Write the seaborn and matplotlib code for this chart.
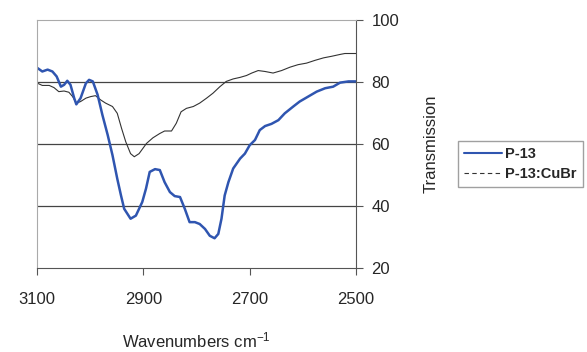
"""
IR transmission spectra, P-13 vs P-13:CuBr
"""

import numpy as np
import pandas as pd
import matplotlib
matplotlib.use("Agg")
import matplotlib.pyplot as plt
import seaborn as sns
from matplotlib.lines import Line2D

# values
p13_wn = [3099, 3090, 3080, 3071, 3063, 3055, 3049, 3043, 3037, 3030, 3026, 3018,
          3008, 3002, 2995, 2986, 2977, 2967, 2958, 2949, 2942, 2936, 2924, 2914,
          2902, 2895, 2888, 2878, 2869, 2860, 2850, 2841, 2831, 2822, 2813, 2803,
          2794, 2784, 2775, 2766, 2759, 2753, 2747, 2740, 2731, 2718, 2709, 2700,
          2690, 2681, 2671, 2659, 2646, 2634, 2618, 2606, 2590, 2574, 2558, 2543,
          2530, 2514, 2500]
p13_val = [84.5, 83.4, 84.0, 83.4, 81.8, 78.5, 79.1, 80.4, 79.1, 74.8, 72.8, 74.8,
           79.6, 80.7, 80.2, 75.9, 69.4, 62.9, 56.4, 48.8, 43.4, 39.1, 35.9, 36.9,
           41.3, 45.6, 51.0, 51.9, 51.6, 47.7, 44.5, 43.2, 42.9, 39.1, 34.8, 34.8,
           34.2, 32.6, 30.4, 29.6, 31.0, 35.9, 43.4, 47.7, 52.1, 55.3, 56.9, 59.6,
           61.3, 64.5, 65.8, 66.5, 67.7, 69.9, 72.1, 73.7, 75.3, 76.9, 78.0, 78.5,
           79.8, 80.2, 80.2]

cubr_wn = [3099, 3090, 3077, 3068, 3059, 3049, 3040, 3033, 3026, 3018, 3008, 2999,
           2990, 2980, 2971, 2958, 2949, 2941, 2933, 2924, 2917, 2908, 2894, 2882,
           2869, 2860, 2847, 2838, 2829, 2819, 2806, 2794, 2781, 2769, 2756, 2744,
           2731, 2718, 2706, 2696, 2684, 2671, 2656, 2640, 2624, 2609, 2593, 2577,
           2561, 2546, 2530, 2521, 2500]
cubr_val = [79.6, 78.9, 78.9, 78.2, 76.9, 77.1, 76.7, 75.3, 73.2, 73.7, 74.8, 75.3,
            75.6, 74.2, 73.2, 72.1, 69.9, 65.1, 60.7, 56.9, 55.9, 56.9, 60.2, 62.0,
            63.4, 64.2, 64.2, 66.7, 70.4, 71.5, 72.1, 73.2, 74.8, 76.4, 78.5, 80.2,
            81.0, 81.5, 82.1, 82.9, 83.7, 83.4, 82.9, 83.7, 84.8, 85.6, 86.1, 87.0,
            87.8, 88.3, 88.9, 89.2, 89.2]

y_ticks = [20, 40, 60, 80, 100]
x_ticks = [3100, 2900, 2700, 2500]

df = pd.concat([
    pd.DataFrame({"wn": p13_wn, "T": p13_val, "sample": "P-13"}),
    pd.DataFrame({"wn": cubr_wn, "T": cubr_val, "sample": "P-13:CuBr"}),
])

sns.set_style("white")
plt.rcParams['font.family'] = ['Liberation Sans', 'DejaVu Sans']
plt.rcParams['mathtext.fontset'] = 'custom'
plt.rcParams['mathtext.rm'] = 'Liberation Sans'
plt.rcParams['mathtext.it'] = 'Liberation Sans'

fig = plt.figure(figsize=(5.87, 3.52), dpi=100)
ax = fig.add_axes([0.063, 0.2386, 0.5435, 0.7045])

sns.lineplot(data=df[df["sample"] == "P-13:CuBr"], x="wn", y="T", color="#333333",
             lw=0.8, ax=ax, legend=False, sort=False)
sns.lineplot(data=df[df["sample"] == "P-13"], x="wn", y="T", color="#2f55b0",
             lw=1.8, ax=ax, legend=False, sort=False)

ax.set_xlim(3100, 2500)
ax.set_ylim(20, 100)
ax.set_xticks(x_ticks)
ax.set_yticks(y_ticks)
for v in [40, 60, 80]:
    ax.axhline(v, color="#444444", lw=0.9, zorder=0)

ax.yaxis.tick_right()
ax.yaxis.set_label_position("right")
ax.tick_params(axis="both", direction="out", length=5, width=0.8, color="#555555",
               labelsize=12, pad=6, bottom=True, right=True, left=False)
ax.tick_params(axis="x", pad=12)
for side in ["left", "top"]:
    ax.spines[side].set_color("#aaaaaa")
    ax.spines[side].set_linewidth(0.8)
for side in ["right", "bottom"]:
    ax.spines[side].set_color("#555555")
    ax.spines[side].set_linewidth(0.8)

ax.set_xlabel("Wavenumbers cm$^{\\mathregular{-1}}$", fontsize=12, labelpad=17)
ax.set_ylabel("Transmission", fontsize=12, labelpad=18)

handles = [Line2D([], [], color="#2f55b0", lw=1.5),
           Line2D([], [], color="#333333", lw=0.8, ls=(0, (4, 3)))]
fig.legend(handles, ["P-13", "P-13:CuBr"], loc="upper left",
           bbox_to_anchor=(0.78, 0.599), frameon=True, fancybox=False,
           edgecolor="#888888", prop={"weight": "bold", "size": 10.5},
           handlelength=2.6, handletextpad=0.25, borderpad=0.4, labelspacing=0.4,
           borderaxespad=0)

fig.savefig("out.png", dpi=100)
